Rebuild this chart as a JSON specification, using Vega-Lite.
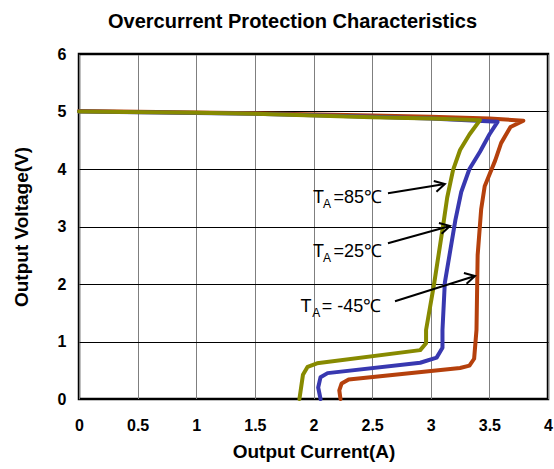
{
  "$schema": "https://vega.github.io/schema/vega-lite/v6.json",
  "autosize": "none",
  "width": 469,
  "height": 345,
  "padding": {"left": 79, "top": 54, "right": 6, "bottom": 70},
  "background": "white",
  "config": {
    "font": "Liberation Sans",
    "view": {"stroke": "black", "strokeWidth": 2.5}
  },
  "title": {
    "text": "Overcurrent Protection Characteristics",
    "font": "Liberation Sans",
    "fontSize": 20,
    "fontWeight": "bold",
    "color": "black",
    "offset": 14,
    "dx": -21
  },
  "datasets": {
    "curves": [
      {"s": "-45", "i": 1, "a": 0, "v": 5.01},
      {"s": "-45", "i": 2, "a": 1.5, "v": 4.97},
      {"s": "-45", "i": 3, "a": 2.5, "v": 4.93},
      {"s": "-45", "i": 4, "a": 3.0, "v": 4.91},
      {"s": "-45", "i": 5, "a": 3.5, "v": 4.88},
      {"s": "-45", "i": 6, "a": 3.79, "v": 4.84},
      {"s": "-45", "i": 7, "a": 3.68, "v": 4.73},
      {"s": "-45", "i": 8, "a": 3.6, "v": 4.45},
      {"s": "-45", "i": 9, "a": 3.55, "v": 4.15},
      {"s": "-45", "i": 10, "a": 3.5, "v": 3.9},
      {"s": "-45", "i": 11, "a": 3.46, "v": 3.7},
      {"s": "-45", "i": 12, "a": 3.43, "v": 3.3},
      {"s": "-45", "i": 13, "a": 3.4, "v": 2.5},
      {"s": "-45", "i": 14, "a": 3.39, "v": 1.2},
      {"s": "-45", "i": 15, "a": 3.37, "v": 0.7},
      {"s": "-45", "i": 16, "a": 3.33, "v": 0.58},
      {"s": "-45", "i": 17, "a": 3.25, "v": 0.54},
      {"s": "-45", "i": 18, "a": 2.3, "v": 0.34},
      {"s": "-45", "i": 19, "a": 2.24, "v": 0.27},
      {"s": "-45", "i": 20, "a": 2.22, "v": 0.15},
      {"s": "-45", "i": 21, "a": 2.23, "v": 0},
      {"s": "25", "i": 1, "a": 0, "v": 5.0},
      {"s": "25", "i": 2, "a": 1.5, "v": 4.96},
      {"s": "25", "i": 3, "a": 2.5, "v": 4.91},
      {"s": "25", "i": 4, "a": 3.0, "v": 4.88},
      {"s": "25", "i": 5, "a": 3.57, "v": 4.82},
      {"s": "25", "i": 6, "a": 3.5, "v": 4.6},
      {"s": "25", "i": 7, "a": 3.42, "v": 4.3},
      {"s": "25", "i": 8, "a": 3.33, "v": 4.0},
      {"s": "25", "i": 9, "a": 3.26, "v": 3.6},
      {"s": "25", "i": 10, "a": 3.21, "v": 3.11},
      {"s": "25", "i": 11, "a": 3.12, "v": 2.02},
      {"s": "25", "i": 12, "a": 3.1, "v": 1.2},
      {"s": "25", "i": 13, "a": 3.1, "v": 0.89},
      {"s": "25", "i": 14, "a": 3.05, "v": 0.72},
      {"s": "25", "i": 15, "a": 2.91, "v": 0.63},
      {"s": "25", "i": 16, "a": 2.12, "v": 0.45},
      {"s": "25", "i": 17, "a": 2.06, "v": 0.38},
      {"s": "25", "i": 18, "a": 2.04, "v": 0.2},
      {"s": "25", "i": 19, "a": 2.06, "v": 0},
      {"s": "85", "i": 1, "a": 0, "v": 5.0},
      {"s": "85", "i": 2, "a": 1.0, "v": 4.98},
      {"s": "85", "i": 3, "a": 1.5, "v": 4.96},
      {"s": "85", "i": 4, "a": 2.5, "v": 4.9},
      {"s": "85", "i": 5, "a": 3.0, "v": 4.88},
      {"s": "85", "i": 6, "a": 3.42, "v": 4.85},
      {"s": "85", "i": 7, "a": 3.33, "v": 4.6},
      {"s": "85", "i": 8, "a": 3.25, "v": 4.33},
      {"s": "85", "i": 9, "a": 3.19, "v": 3.98},
      {"s": "85", "i": 10, "a": 3.14, "v": 3.5},
      {"s": "85", "i": 11, "a": 3.11, "v": 3.08},
      {"s": "85", "i": 12, "a": 3.03, "v": 2.02},
      {"s": "85", "i": 13, "a": 2.96, "v": 1.2},
      {"s": "85", "i": 14, "a": 2.96, "v": 0.97},
      {"s": "85", "i": 15, "a": 2.91, "v": 0.85},
      {"s": "85", "i": 16, "a": 2.03, "v": 0.62},
      {"s": "85", "i": 17, "a": 1.95, "v": 0.56},
      {"s": "85", "i": 18, "a": 1.91, "v": 0.42},
      {"s": "85", "i": 19, "a": 1.88, "v": 0}
    ],
    "labels": [
      {"t": "T", "sub": "A", "rest": "=85℃", "tx": 1.996, "ty": 3.41, "sx": 2.08, "sy": 3.32, "rx": 2.17},
      {"t": "T", "sub": "A", "rest": "=25℃", "tx": 1.996, "ty": 2.47, "sx": 2.08, "sy": 2.38, "rx": 2.17},
      {"t": "T", "sub": "A", "rest": "= -45℃", "tx": 1.89, "ty": 1.51, "sx": 1.99, "sy": 1.43, "rx": 2.07}
    ],
    "arrows": [
      {"x1": 2.635, "y1": 3.58, "x2": 3.12, "y2": 3.74},
      {"x1": 2.635, "y1": 2.71, "x2": 3.164, "y2": 3.01},
      {"x1": 2.695, "y1": 1.7, "x2": 3.377, "y2": 2.14}
    ]
  },
  "layer": [
    {
      "data": {"name": "curves"},
      "mark": {"type": "line", "strokeWidth": 4, "strokeJoin": "round", "strokeCap": "round"},
      "encoding": {
        "x": {
          "field": "a", "type": "quantitative",
          "scale": {"domain": [0, 4], "nice": false, "zero": false},
          "axis": {
            "title": "Output Current(A)",
            "values": [0, 0.5, 1, 1.5, 2, 2.5, 3, 3.5, 4],
            "labelExpr": "datum.value",
            "grid": true, "gridColor": "#7f7f7f", "gridWidth": 1, "gridOpacity": 1,
            "domain": false, "ticks": false,
            "labelFont": "Liberation Sans", "labelFontSize": 16, "labelFontWeight": "bold", "labelColor": "black",
            "labelPadding": 18, "labelFlush": false,
            "titleFont": "Liberation Sans", "titleFontSize": 19, "titleFontWeight": "bold", "titleColor": "black",
            "titlePadding": 9
          }
        },
        "y": {
          "field": "v", "type": "quantitative",
          "scale": {"domain": [0, 6], "nice": false, "zero": false},
          "axis": {
            "title": "Output Voltage(V)",
            "values": [0, 1, 2, 3, 4, 5, 6],
            "labelExpr": "datum.value",
            "grid": true, "gridColor": "black", "gridWidth": 1, "gridOpacity": 1,
            "domain": false, "ticks": false,
            "labelFont": "Liberation Sans", "labelFontSize": 16, "labelFontWeight": "bold", "labelColor": "black",
            "labelPadding": 13, "labelFlush": false,
            "titleFont": "Liberation Sans", "titleFontSize": 19, "titleFontWeight": "bold", "titleColor": "black",
            "titlePadding": 26
          }
        },
        "color": {
          "field": "s", "type": "nominal",
          "scale": {"domain": ["-45", "25", "85"], "range": ["#B5400C", "#3838B0", "#878A00"]},
          "legend": null
        },
        "order": {"field": "i", "type": "quantitative"}
      }
    },
    {
      "data": {"name": "arrows"},
      "mark": {"type": "rule", "color": "black", "strokeWidth": 2},
      "encoding": {
        "x": {"field": "x1", "type": "quantitative"},
        "y": {"field": "y1", "type": "quantitative"},
        "x2": {"field": "x2"},
        "y2": {"field": "y2"}
      }
    },
    {
      "data": {"name": "arrows"},
      "mark": {"type": "point", "shape": "M -1 -0.55 L 0 0 L -1 0.55", "filled": false, "stroke": "black", "strokeWidth": 2, "size": 400, "angle": -14, "opacity": 1},
      "encoding": {
        "x": {"field": "x2", "type": "quantitative"},
        "y": {"field": "y2", "type": "quantitative"}
      }
    },
    {
      "data": {"name": "labels"},
      "mark": {"type": "text", "align": "left", "baseline": "alphabetic", "fontSize": 18, "font": "Liberation Sans", "color": "black"},
      "encoding": {
        "x": {"field": "tx", "type": "quantitative"},
        "y": {"field": "ty", "type": "quantitative"},
        "text": {"field": "t"}
      }
    },
    {
      "data": {"name": "labels"},
      "mark": {"type": "text", "align": "left", "baseline": "alphabetic", "fontSize": 12, "font": "Liberation Sans", "color": "black"},
      "encoding": {
        "x": {"field": "sx", "type": "quantitative"},
        "y": {"field": "sy", "type": "quantitative"},
        "text": {"field": "sub"}
      }
    },
    {
      "data": {"name": "labels"},
      "mark": {"type": "text", "align": "left", "baseline": "alphabetic", "fontSize": 18, "font": "Liberation Sans", "color": "black"},
      "encoding": {
        "x": {"field": "rx", "type": "quantitative"},
        "y": {"field": "ty", "type": "quantitative"},
        "text": {"field": "rest"}
      }
    }
  ]
}
